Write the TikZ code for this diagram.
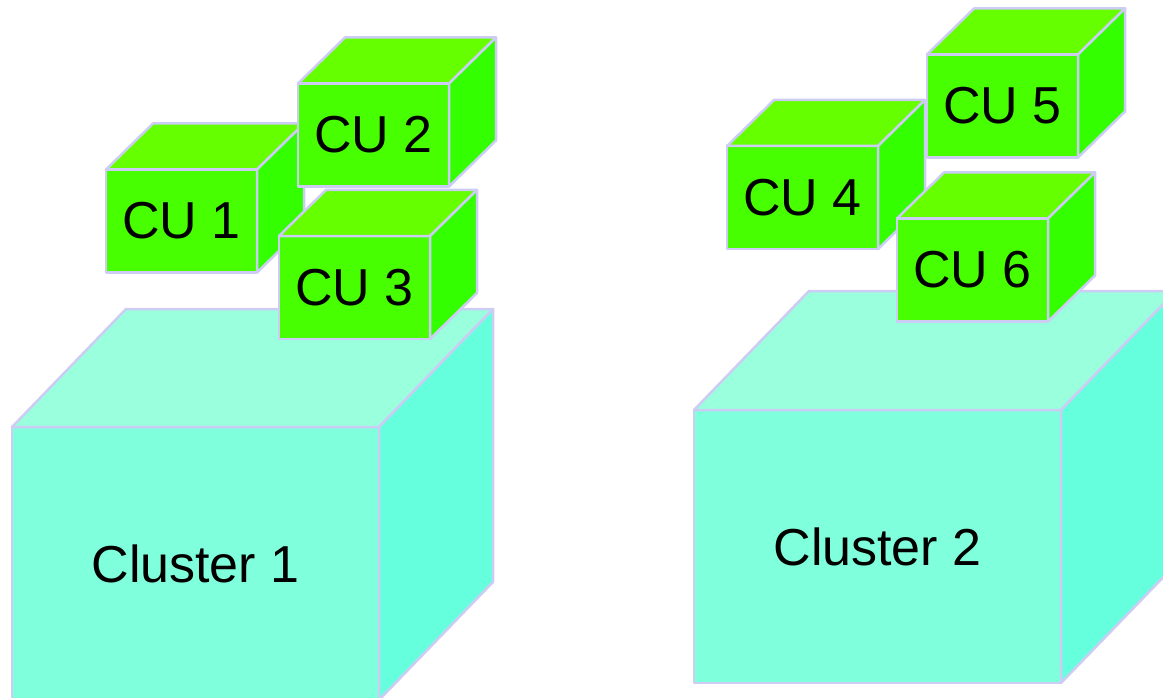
\documentclass[tikz,border=0pt]{standalone}
\usepackage{fontspec}
\setmainfont{Liberation Sans}
\definecolor{edgecol}{HTML}{CCCCF5}
\definecolor{cufront}{HTML}{47FF00}
\definecolor{cutop}{HTML}{66FF00}
\definecolor{cuside}{HTML}{33FF00}
\definecolor{clfront}{HTML}{7FFFDB}
\definecolor{cltop}{HTML}{99FFDD}
\definecolor{clside}{HTML}{66FFDD}
% top and right faces of a box whose front is node #1, depth #2
\newcommand{\boxsides}[4]{%
  \filldraw[edge, fill=#3] (#1.north west) -- ([shift={(#2)}]#1.north west)
    -- ([shift={(#2)}]#1.north east) -- (#1.north east) -- cycle;
  \filldraw[edge, fill=#4] (#1.north east) -- ([shift={(#2)}]#1.north east)
    -- ([shift={(#2)}]#1.south east) -- (#1.south east) -- cycle;
}
\begin{document}
\begin{tikzpicture}[x=1pt, y=-1pt,
        edge/.style = {draw=edgecol, line width=2.5pt, line join=round},
        front/.style = {edge, rectangle, inner sep=0pt, outer sep=0pt,
            font=\fontsize{52}{60}\selectfont},
        cluster/.style = {front, fill=clfront, minimum width=367pt, minimum height=273pt},
        cu/.style = {front, fill=cufront, minimum width=151pt, minimum height=103pt}]
    \useasboundingbox (0,0) rectangle (1163,698);
    \node[cluster] (cl1) at (195.5,563.5) {Cluster 1};
    \boxsides{cl1}{114,-118}{cltop}{clside}
    \node[cluster] (cl2) at (877.5,546.5) {Cluster 2};
    \boxsides{cl2}{115,-119}{cltop}{clside}
    \foreach \n/\x/\y in {1/181.5/221, 2/373.5/135, 3/354.5/287.5,
                          4/802.5/197.5, 5/1002.5/106, 6/972.5/270} {
        \node[cu] (cu\n) at (\x,\y) {CU \n};
        \boxsides{cu\n}{47,-46}{cutop}{cuside}
    }
\end{tikzpicture}
\end{document}
